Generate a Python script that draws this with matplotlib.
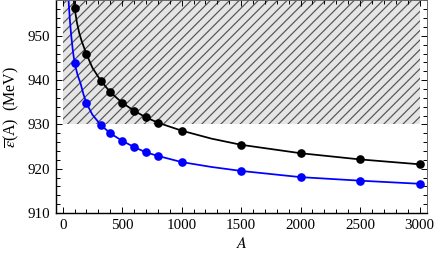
import matplotlib
matplotlib.use("Agg")
import matplotlib.pyplot as plt
from matplotlib.ticker import MultipleLocator

# ── data ──
A_points = [100, 200, 320, 400, 500, 600, 700, 800, 1000, 1500, 2000, 2500, 3000]
black_points = [956.3, 945.9, 939.9, 937.3, 934.9, 933.1, 931.6, 930.4, 928.6,
                925.4, 923.5, 922.1, 921.0]
blue_points = [943.9, 934.8, 929.9, 928.0, 926.3, 924.9, 923.7, 922.9, 921.5,
               919.5, 918.1, 917.3, 916.6]

# fitted curves, sampled by eye
black_curve_A = [90, 100, 120, 140, 160, 200, 250, 320, 400, 500, 600, 700, 800,
                 1000, 1250, 1500, 2000, 2500, 3000]
black_curve = [959.0, 956.3, 953.0, 950.6, 948.8, 945.9, 942.8, 939.9, 937.3,
               934.9, 933.1, 931.6, 930.4, 928.6, 926.8, 925.4, 923.5, 922.1, 921.0]
blue_curve_A = [45, 50, 60, 70, 85, 100, 125, 150, 175, 200, 250, 320, 400, 500,
                600, 700, 800, 1000, 1250, 1500, 2000, 2500, 3000]
blue_curve = [960.0, 957.8, 953.8, 950.6, 946.8, 943.9, 941.2, 939.3, 936.8, 934.8,
              932.2, 929.9, 928.0, 926.3, 924.9, 923.7, 922.9, 921.5, 920.4,
              919.5, 918.1, 917.3, 916.6]

# shaded (excluded) band
band_A = [0, 3000]
band_low = 930

DPI = 115
plt.rcParams["font.family"] = ["Liberation Serif", "DejaVu Serif"]
plt.rcParams["mathtext.fontset"] = "stix"
plt.rcParams["hatch.color"] = "#555555"
plt.rcParams["hatch.linewidth"] = 0.75

fig = plt.figure(figsize=(436 / DPI, 256 / DPI), dpi=DPI)
ax = fig.add_axes([56 / 436, 43 / 256, 371 / 436, 213 / 256])

ylim = (910, 958.1)
ax.fill_between(band_A, band_low, ylim[1] + 5, facecolor="#e5e5e5",
                edgecolor="none", hatch="////", zorder=0)

ax.plot(black_curve_A, black_curve, color="black", lw=1.1, zorder=2)
ax.plot(blue_curve_A, blue_curve, color="#0000ff", lw=1.1, zorder=2)
ax.plot(A_points, black_points, "o", color="black", ms=4.4, zorder=3)
ax.plot(A_points, blue_points, "o", color="#0000ff", ms=4.4, zorder=3)

ax.set_xlim(-56, 3063)
ax.set_ylim(*ylim)
ax.xaxis.set_major_locator(MultipleLocator(500))
ax.xaxis.set_minor_locator(MultipleLocator(100))
ax.yaxis.set_major_locator(MultipleLocator(10))
ax.yaxis.set_minor_locator(MultipleLocator(2))
ax.tick_params(which="both", direction="in", top=True, right=True,
               labelsize=9.4, width=0.6)
ax.tick_params(which="major", length=4)
ax.tick_params(which="minor", length=2.2)
for side in ["left", "bottom"]:
    ax.spines[side].set_linewidth(0.9)
for side in ["right", "top"]:
    ax.spines[side].set_linewidth(0.6)
    ax.spines[side].set_color("#666666")

ax.set_xlabel(r"$A$", fontsize=10, labelpad=3)
ax.set_ylabel(r"$\overline{\varepsilon}$(A)  (MeV)", fontsize=10, labelpad=4)

fig.savefig("out.png", dpi=DPI)
